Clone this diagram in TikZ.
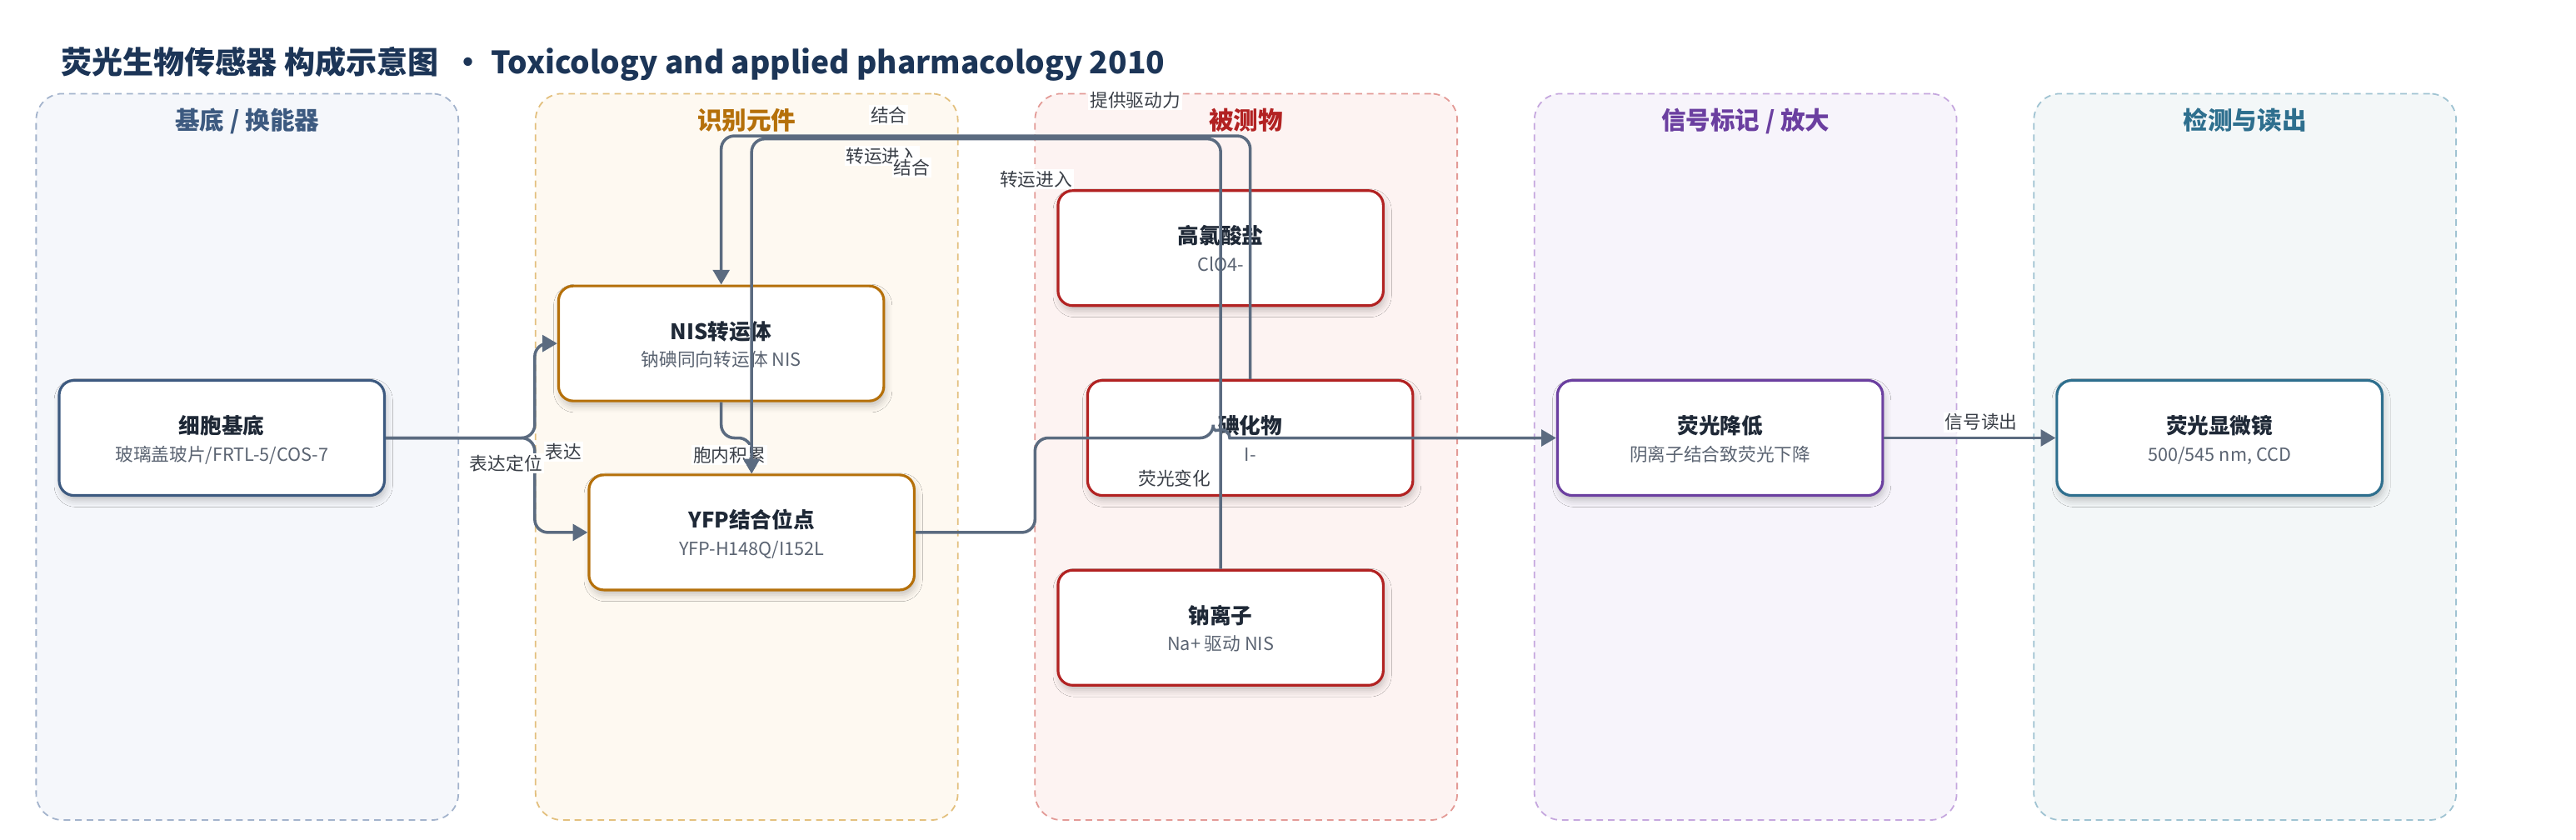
\documentclass[tikz,border=0pt]{standalone}
\usepackage{fontspec}
\setmainfont{Noto Sans CJK SC}
\usetikzlibrary{arrows.meta,shadows.blur}
\definecolor{titlec}{HTML}{1C3557}
\definecolor{edgec}{HTML}{5B6B80}
\definecolor{lblc}{HTML}{3A3F47}
\definecolor{ttlc}{HTML}{1F2937}
\definecolor{subc}{HTML}{5B6472}
\definecolor{pfA}{HTML}{F5F7FB}\definecolor{pbA}{HTML}{A3B3CC}\definecolor{ptA}{HTML}{3D5A80}
\definecolor{pfB}{HTML}{FEF9F1}\definecolor{pbB}{HTML}{E3C07E}\definecolor{ptB}{HTML}{B5700A}
\definecolor{pfC}{HTML}{FDF3F2}\definecolor{pbC}{HTML}{E39A96}\definecolor{ptC}{HTML}{B22222}
\definecolor{pfD}{HTML}{F7F4FB}\definecolor{pbD}{HTML}{C5A7DE}\definecolor{ptD}{HTML}{6B3FA0}
\definecolor{pfE}{HTML}{F3F7F8}\definecolor{pbE}{HTML}{9FC3D2}\definecolor{ptE}{HTML}{2E6F8E}
\newcommand{\mkbox}[6]{%
  \node[nodebox, draw=#4] (#1) at (#2,#3) {};
  \node[ttl, anchor=base] (#1-t) at ([yshift=2.5pt]#1.center) {#5};
  \node[sub, anchor=base] (#1-s) at ([yshift=-14pt]#1.center) {#6};
}
\begin{document}
\begin{tikzpicture}[x=1pt,y=-1pt,
  panel/.style={dash pattern=on 4pt off 3pt, line width=0.9pt, rounded corners=16pt,
    minimum width=257pt, minimum height=442pt, inner sep=0pt},
  ptitle/.style={font=\fontsize{15}{17}\selectfont\bfseries, anchor=base, inner sep=0pt},
  nodebox/.style={fill=white, rounded corners=9pt, line width=1.6pt,
    minimum width=198pt, minimum height=70pt, inner sep=0pt,
    blur shadow={shadow xshift=1pt, shadow yshift=-3pt, shadow blur radius=4pt, shadow opacity=22}},
  ttl/.style={font=\fontsize{13}{15}\selectfont\bfseries, text=ttlc, inner sep=0pt},
  sub/.style={font=\fontsize{11}{13}\selectfont, text=subc, inner sep=0pt},
  edge/.style={draw=edgec, line width=1.8pt, rounded corners=8pt,
    -{Triangle[length=9pt,width=10pt]}},
  lbl/.style={fill=white, text=lblc, font=\fontsize{11}{13}\selectfont, inner sep=1pt}
]
\useasboundingbox (0,0) rectangle (1568,511);
\fill[white] (0,0) rectangle (1568,511);

% title
\node[anchor=base west, inner sep=0pt, text=titlec, font=\fontsize{18.8}{22}\selectfont\bfseries]
  (title) at (37,45) {荧光生物传感器 构成示意图 \ · Toxicology and applied pharmacology 2010};

% panels
\node[panel, draw=pbA, fill=pfA] (p1) at (150.5,278) {};
\node[panel, draw=pbB, fill=pfB] (p2) at (454.5,278) {};
\node[panel, draw=pbC, fill=pfC] (p3) at (758.5,278) {};
\node[panel, draw=pbD, fill=pfD] (p4) at (1062.5,278) {};
\node[panel, draw=pbE, fill=pfE] (p5) at (1366.5,278) {};
\node[ptitle, text=ptA] (p1t) at (150.5,79) {基底 / 换能器};
\node[ptitle, text=ptB] (p2t) at (454.5,79) {识别元件};
\node[ptitle, text=ptC] (p3t) at (758.5,79) {被测物};
\node[ptitle, text=ptD] (p4t) at (1062.5,79) {信号标记 / 放大};
\node[ptitle, text=ptE] (p5t) at (1366.5,79) {检测与读出};

% nodes
\mkbox{cell}{135}{266.5}{ptA}{细胞基底}{玻璃盖玻片/FRTL-5/COS-7}
\mkbox{nis}{439}{209}{ptB}{NIS转运体}{钠碘同向转运体 NIS}
\mkbox{yfp}{457.5}{324}{ptB}{YFP结合位点}{YFP-H148Q/I152L}
\mkbox{clo}{743}{151}{ptC}{高氯酸盐}{ClO4-}
\mkbox{iod}{761}{266.5}{ptC}{碘化物}{I-}
\mkbox{na}{743}{382}{ptC}{钠离子}{Na+ 驱动 NIS}
\mkbox{fl}{1047}{266.5}{ptD}{荧光降低}{阴离子结合致荧光下降}
\mkbox{mic}{1351}{266.5}{ptE}{荧光显微镜}{500/545 nm, CCD}

% edges
\draw[edge] (cell.east) -- (325.5,266.5) |- (nis.west);
\draw[edge] (cell.east) -- (325.5,266.5) |- (yfp.west);
\draw[edge] (nis.south) -- (439,266.5) -| (yfp.north);
\draw[edge] (iod.north) -- (761,82.7) -| (nis.north);
\node[lbl] (l3) at (444,277) {胞内积累};
\draw[edge] (na.north) -- (743,84.5) -| (yfp.north);
\draw[edge] (yfp.east) -- (630,324) |- (738.5,266.5) [sharp corners]
  arc[start angle=180, end angle=0, radius=5pt] -- (fl.west);
\draw[edge] (fl.east) -- (mic.west);

% labels
\node[lbl] (l1) at (343,275) {表达};
\node[lbl] (l2) at (308,282) {表达定位};
\node[lbl] (l4) at (541,70) {结合};
\node[lbl] (l5) at (537,95) {转运进入};
\node[lbl] (l6) at (555,102) {结合};
\node[lbl] (l7) at (630.6,109) {转运进入};
\node[lbl] (l8) at (691,61) {提供驱动力};
\node[lbl] (l9) at (715,291) {荧光变化};
\node[lbl] (l10) at (1206,257) {信号读出};
\end{tikzpicture}
\end{document}
